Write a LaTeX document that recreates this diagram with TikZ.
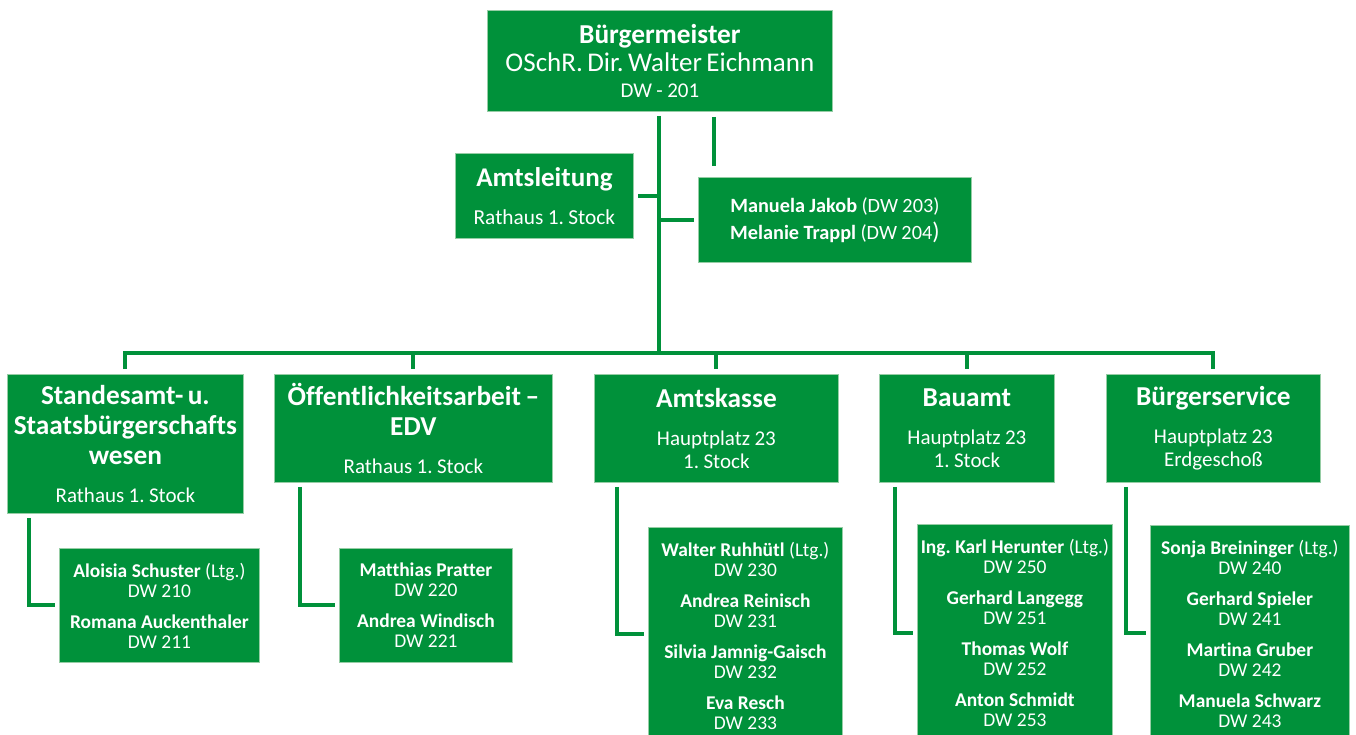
\documentclass[tikz,border=0pt]{standalone}
\usepackage{fontspec}
\setmainfont{Carlito}[Ligatures=NoCommon]
\frenchspacing
\definecolor{bgreen}{RGB}{0,145,58}
\definecolor{bedge}{RGB}{150,205,165}
\newcommand\myline[3]{\fontsize{#1}{#2}\selectfont#3}
\newcommand\person[3]{\fontsize{14.6pt}{#1}\selectfont#2\\\fontsize{14.6pt}{15pt}\selectfont#3}
\tikzset{
  box/.style={rectangle, fill=bgreen, draw=bedge, line width=0.6pt, text=white,
    align=center, inner sep=0pt, anchor=north west},
  wh/.style 2 args={minimum width=#1*0.75pt, minimum height=#2*0.75pt, text width=#1*0.75pt},
  conn/.style={draw=bgreen, line width=3pt, line join=miter, line cap=butt},
}
\begin{document}
\begin{tikzpicture}[x=0.75pt,y=-0.75pt]
\useasboundingbox (0,0) rectangle (1356,735);
\clip (0,0) rectangle (1356,735);
% top level
\node[box, wh={345}{101}] (bm) at (487,10)
  {\myline{20.5pt}{21pt}{\textbf{Bürgermeister}}\\
   \myline{20.25pt}{21pt}{OSchR. Dir. Walter Eichmann}\\
   \myline{15.75pt}{19.5pt}{DW - 201}\par};
\node[box, wh={178}{85}] (amt) at (455,153)
  {\myline{20.25pt}{21pt}{\textbf{Amtsleitung}}\\
   \myline{16pt}{28.5pt}{Rathaus 1. Stock}\par};
\node[box, wh={273}{85}] (mj) at (698,177)
  {\myline{15.2pt}{20.25pt}{\textbf{Manuela Jakob} (DW 203)}\\
   \myline{15.2pt}{20.25pt}{\textbf{Melanie Trappl} (DW 204{\fontsize{18pt}{20.25pt}\selectfont)}}\par};
% departments
\node[box, wh={236}{139}] (std) at (7,374)
  {\myline{20.5pt}{22.5pt}{\textbf{Standesamt- u.}}\\
   \myline{20.5pt}{22.5pt}{\textbf{Staatsbürgerschafts}}\\
   \myline{20.5pt}{23pt}{\textbf{wesen}}\\
   \myline{15.75pt}{28.5pt}{Rathaus 1. Stock}\par};
\node[box, wh={278}{108}] (oeff) at (274,374)
  {\myline{20.5pt}{22pt}{\textbf{Öffentlichkeitsarbeit –}}\\
   \myline{20.5pt}{22pt}{\textbf{EDV}}\\
   \myline{15.75pt}{28.5pt}{Rathaus 1. Stock}\par};
\node[box, wh={244}{108}] (kasse) at (594,374)
  {\myline{20.5pt}{22pt}{\textbf{Amtskasse}}\\
   \myline{15.75pt}{28.5pt}{Hauptplatz 23}\\
   \myline{15.75pt}{17.25pt}{1. Stock}\par};
\node[box, wh={175}{108}] (bau) at (879,374)
  {\myline{20.5pt}{22pt}{\textbf{Bauamt}}\\
   \myline{15.75pt}{28.5pt}{Hauptplatz 23}\\
   \myline{15.75pt}{17.25pt}{1. Stock}\par};
\node[box, wh={214}{108}] (bs) at (1106,374)
  {\myline{20.5pt}{22pt}{\textbf{Bürgerservice}}\\
   \myline{15.75pt}{28.5pt}{Hauptplatz 23}\\
   \myline{15.75pt}{17.25pt}{Erdgeschoß}\par};
% staff boxes
\node[box, wh={200}{114}] (ali) at (59,548)
  {\person{15pt}{\textbf{Aloisia Schuster} (Ltg.)}{DW 210}\\
   \person{23.25pt}{\textbf{Romana Auckenthaler}}{DW 211}\par};
\node[box, wh={173}{114}] (mat) at (339,548)
  {\person{15pt}{\textbf{Matthias Pratter}}{DW 220}\\
   \person{23.25pt}{\textbf{Andrea Windisch}}{DW 221}\par};
\node[box, wh={194}{217}] (wal) at (648,527)
  {\person{15pt}{\textbf{Walter Ruhhütl} (Ltg.)}{DW 230}\\
   \person{23.25pt}{\textbf{Andrea Reinisch}}{DW 231}\\
   \person{23.25pt}{\textbf{Silvia Jamnig-Gaisch}}{DW 232}\\
   \person{23.25pt}{\textbf{Eva Resch}}{DW 233}\par};
\node[box, wh={195}{217}] (karl) at (917,524)
  {\person{15pt}{\textbf{Ing. Karl Herunter} (Ltg.)}{DW 250}\\
   \person{23.25pt}{\textbf{Gerhard Langegg}}{DW 251}\\
   \person{23.25pt}{\textbf{Thomas Wolf}}{DW 252}\\
   \person{23.25pt}{\textbf{Anton Schmidt}}{DW 253}\par};
\node[box, wh={199}{217}] (son) at (1150,525)
  {\person{15pt}{\textbf{Sonja Breininger} (Ltg.)}{DW 240}\\
   \person{23.25pt}{\textbf{Gerhard Spieler}}{DW 241}\\
   \person{23.25pt}{\textbf{Martina Gruber}}{DW 242}\\
   \person{23.25pt}{\textbf{Manuela Schwarz}}{DW 243}\par};
% junction coordinates
\coordinate (trunk) at (659,353);
\coordinate (stub) at (714,166);
\coordinate (c1) at (29,605);
\coordinate (c2) at (300,605);
\coordinate (c3) at (617,634);
\coordinate (c4) at (895,633);
\coordinate (c5) at (1126,633);
% connectors
\draw[conn, shorten <=3pt] (bm.south -| trunk) -- (trunk);
\draw[conn, shorten <=3.75pt] (bm.south -| stub) -- (stub);
\draw[conn, shorten >=3pt] (amt.east -| trunk) -- (amt.east);
\draw[conn, shorten >=3pt] (mj.west -| trunk) -- (mj.west);
\draw[conn, shorten <=3.75pt, shorten >=3.75pt]
  (std.north) -- (std.north |- trunk) -- (bs.north |- trunk) -- (bs.north);
\foreach \n in {oeff,kasse,bau}
  \draw[conn, shorten >=3.75pt] (\n.north |- trunk) -- (\n.north);
\draw[conn, shorten <=3pt, shorten >=3pt] (std.south -| c1) -- (c1) -- (c1 -| ali.west);
\draw[conn, shorten <=3pt, shorten >=3pt] (oeff.south -| c2) -- (c2) -- (c2 -| mat.west);
\draw[conn, shorten <=3pt, shorten >=3pt] (kasse.south -| c3) -- (c3) -- (c3 -| wal.west);
\draw[conn, shorten <=3pt, shorten >=3pt] (bau.south -| c4) -- (c4) -- (c4 -| karl.west);
\draw[conn, shorten <=3pt, shorten >=3pt] (bs.south -| c5) -- (c5) -- (c5 -| son.west);
\end{tikzpicture}
\end{document}
